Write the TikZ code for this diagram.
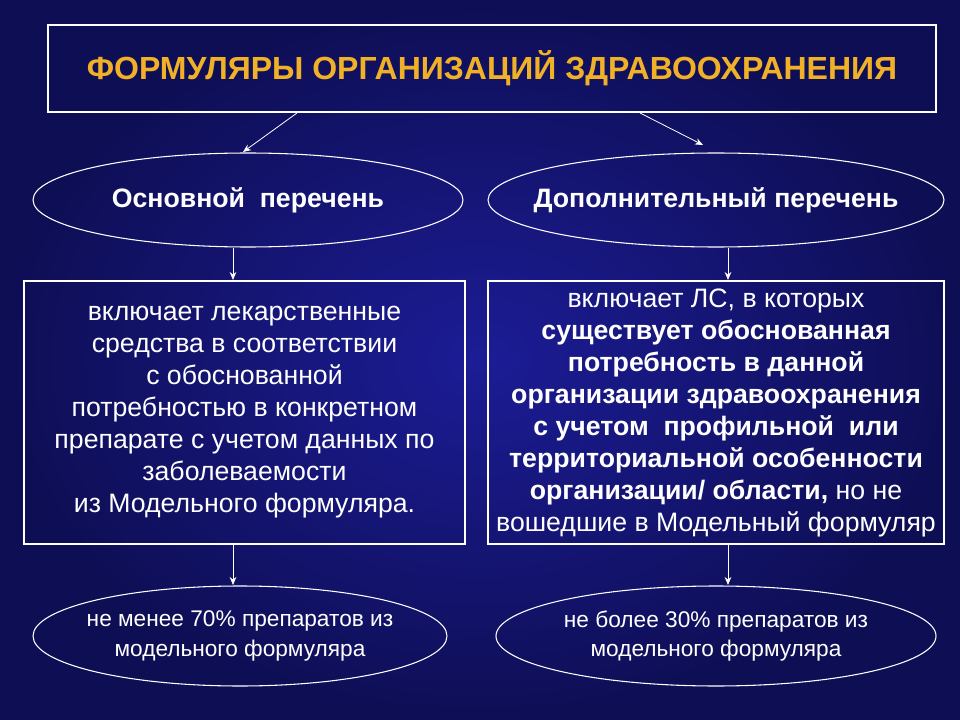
\documentclass[tikz,border=0pt]{standalone}
\usepackage{fontspec}
\setmainfont{Liberation Sans}
\usetikzlibrary{shapes.geometric,arrows.meta}
\definecolor{bgin}{RGB}{28,28,150}
\definecolor{bgout}{RGB}{14,14,85}
\definecolor{ttl}{RGB}{240,176,40}
\tikzset{
  frame/.style={draw=white,line width=0.8pt},
  oval/.style={draw=white,line width=0.8pt,ellipse,inner sep=0pt},
  arr/.style={draw=white,line width=0.6pt,-{Stealth[length=6pt,width=5pt]}},
  txt/.style={text=white,align=center,font=\fontsize{20}{24}\selectfont},
}
\begin{document}
\begin{tikzpicture}[x=0.75pt,y=-0.75pt]
\useasboundingbox (0,0) rectangle (960,720);
\shade[inner color=bgin,outer color=bgout] (0,0) rectangle (960,720);
\node[frame,minimum width=888*0.75pt,minimum height=87*0.75pt] (title) at (492,68.5)
  {\textcolor{ttl}{\fontsize{24}{28}\selectfont\bfseries ФОРМУЛЯРЫ ОРГАНИЗАЦИЙ ЗДРАВООХРАНЕНИЯ}};
\node[oval,minimum width=430*0.75pt,minimum height=94*0.75pt] (e1) at (248,200) {};
\node[txt,font=\fontsize{20}{24}\selectfont\bfseries] at (e1) {Основной\ \ перечень};
\node[oval,minimum width=456*0.75pt,minimum height=94*0.75pt] (e2) at (716,200) {};
\node[txt,font=\fontsize{20}{24}\selectfont\bfseries] at (e2) {Дополнительный перечень};
\node[frame,minimum width=441*0.75pt,minimum height=263*0.75pt] (b1) at (244.5,412.5) {};
\node[txt] at (b1) {включает лекарственные\\средства в соответствии\\с обоснованной\\потребностью в конкретном\\препарате с учетом данных по\\заболеваемости\\из Модельного формуляра.};
\node[frame,minimum width=456*0.75pt,minimum height=263*0.75pt] (b2) at (716,412.5) {};
\node[txt] at (b2) {включает ЛС, в которых\\\textbf{существует обоснованная}\\\textbf{потребность в данной}\\\textbf{организации здравоохранения}\\\textbf{с учетом\ \ профильной\ \ или}\\\textbf{территориальной особенности}\\\textbf{организации/ области,} но не\\вошедшие в Модельный формуляр};
\node[oval,minimum width=414*0.75pt,minimum height=100*0.75pt] (e3) at (240,636) {};
\node[txt,font=\fontsize{17}{22}\selectfont] at (e3) {не менее 70\% препаратов из\\модельного формуляра};
\node[oval,minimum width=440*0.75pt,minimum height=100*0.75pt] (e4) at (716,636) {};
\node[txt,font=\fontsize{17}{22}\selectfont] at (e4) {не более 30\% препаратов из\\модельного формуляра};
\coordinate (t1) at (297,113); \coordinate (h1) at (243,152);
\coordinate (t2) at (640,113); \coordinate (h2) at (703,145);
\draw[arr] (t1) -- (h1);
\draw[arr] (t2) -- (h2);
\draw[arr] (233,248) -- (233,280);
\draw[arr] (728,248) -- (728,280);
\draw[arr] (233,545) -- (233,585);
\draw[arr] (728,545) -- (728,585);
\end{tikzpicture}
\end{document}
